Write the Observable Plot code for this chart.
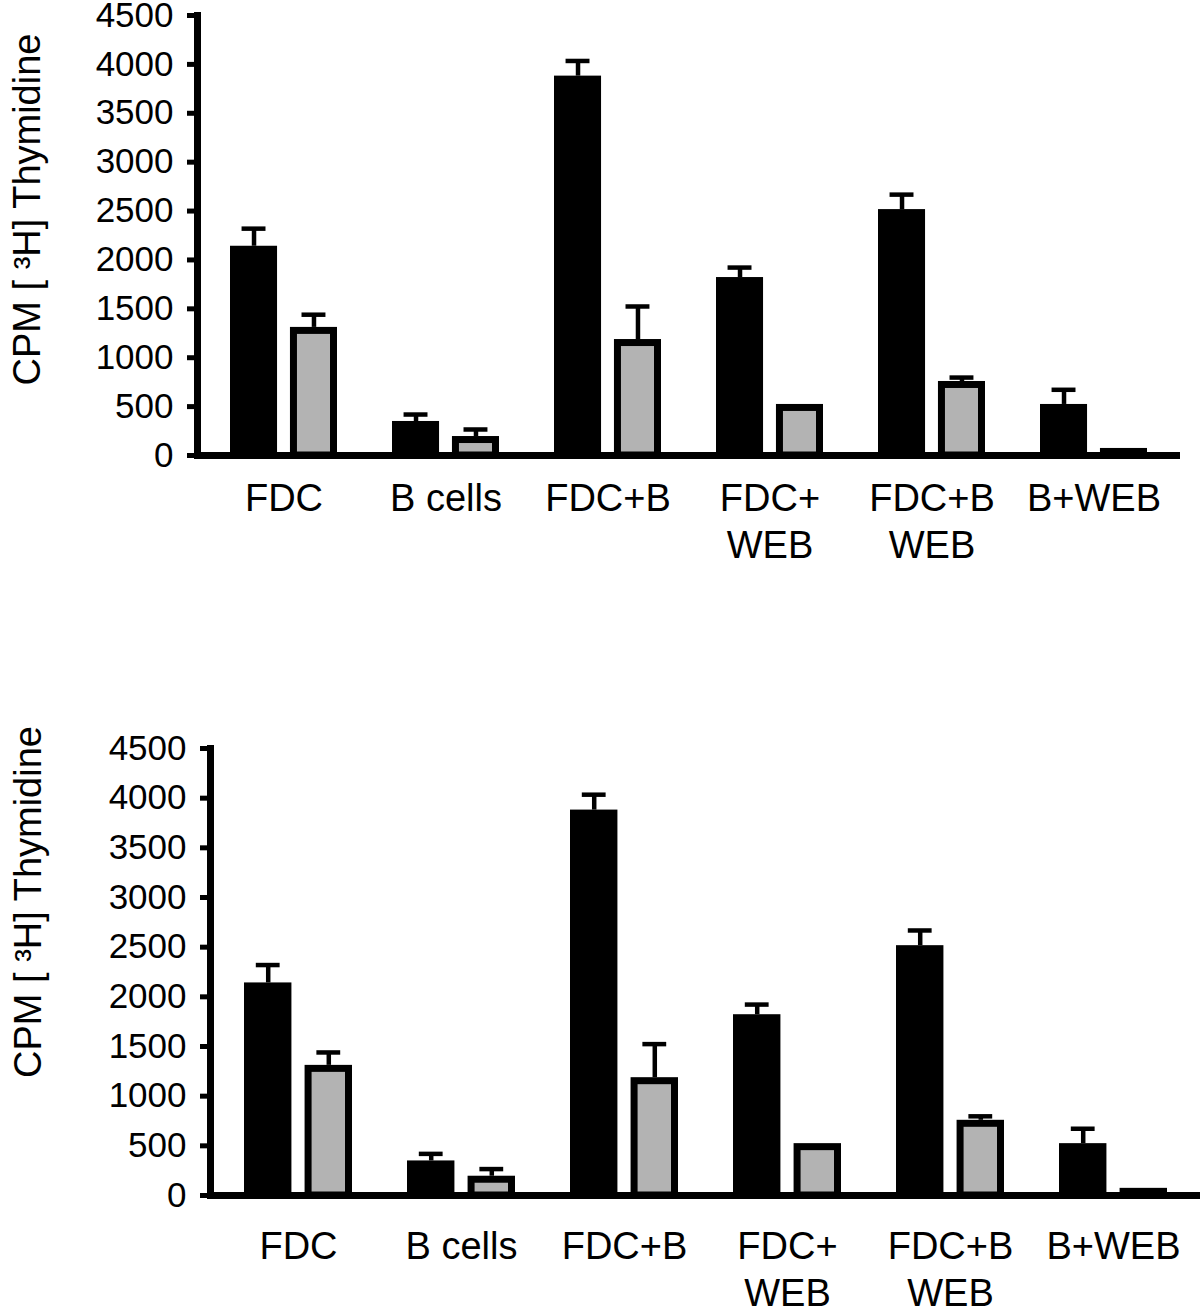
<!DOCTYPE html>
<html>
<head>
<meta charset="utf-8">
<script src="https://cdn.jsdelivr.net/npm/d3@7"></script>
<script src="https://cdn.jsdelivr.net/npm/@observablehq/plot@0.6"></script>
<style>
  body { margin: 0; background: #fff; }
  #chart { width: 1200px; }
  #chart svg { display: block; }
</style>
</head>
<body>
<div id="chart"></div>
<script>
// ---- data ----
const categories  = ["FDC", "B cells", "FDC+B", "FDC+\nWEB", "FDC+B\nWEB", "B+WEB"];
const blackValues = [2140, 348, 3880, 1820, 2515, 522];
const blackUpper  = [2320, 419, 4035, 1922, 2668, 672];
const greyValues  = [1310, 194, 1186, 522, 757, 72];
const greyUpper   = [1440, 266, 1524, 522, 797, 72];
const yTicks      = [0, 500, 1000, 1500, 2000, 2500, 3000, 3500, 4000, 4500];
const yLabel      = "CPM [ ³H] Thymidine";

const blackRows = categories.map((c, i) => ({cat: c, value: blackValues[i], upper: blackUpper[i]}));
const greyRows  = categories.map((c, i) => ({cat: c, value: greyValues[i], upper: greyUpper[i]}));

const FONT = "'Liberation Sans', Arial, Helvetica, sans-serif";
const GREY = "#b3b3b3";

function panel(p) {
  const width = 1200;
  const n = categories.length;
  const step = (width - p.marginLeft - p.marginRight) / (n - p.paddingInner + 2 * p.paddingOuter);
  const bw = step * (1 - p.paddingInner);
  const barW = bw * 0.44;
  const gap = bw * 0.12;
  const sw = 7;            // outline of grey bars
  const capHalf = 12;
  const cBlack = barW / 2;
  const cGrey = barW + gap + barW / 2;

  return Plot.plot({
    width,
    height: p.height,
    marginTop: p.marginTop,
    marginBottom: p.marginBottom,
    marginLeft: p.marginLeft,
    marginRight: p.marginRight,
    style: {fontFamily: FONT, background: "white", color: "black", overflow: "visible"},
    x: {domain: categories, paddingInner: p.paddingInner, paddingOuter: p.paddingOuter, axis: null},
    y: {domain: [0, 4500], axis: null},
    marks: [
      // bars
      Plot.barY(blackRows, {x: "cat", y: "value", fill: "black", insetLeft: 0, insetRight: bw - barW}),
      Plot.barY(greyRows, {x: "cat", y: "value", fill: GREY, stroke: "black", strokeWidth: sw,
        insetLeft: barW + gap + sw / 2, insetRight: sw / 2, insetTop: sw / 2}),
      // error bars
      Plot.ruleX(blackRows.filter(d => d.upper > d.value), {x: "cat", y1: "value", y2: "upper", strokeWidth: 4.5, dx: cBlack - bw / 2}),
      Plot.ruleX(greyRows.filter(d => d.upper > d.value), {x: "cat", y1: "value", y2: "upper", strokeWidth: 4.5, dx: cGrey - bw / 2}),
      Plot.tickY(blackRows.filter(d => d.upper > d.value), {x: "cat", y: "upper", strokeWidth: 4.5,
        insetLeft: cBlack - capHalf, insetRight: bw - cBlack - capHalf}),
      Plot.tickY(greyRows.filter(d => d.upper > d.value), {x: "cat", y: "upper", strokeWidth: 4.5,
        insetLeft: cGrey - capHalf, insetRight: bw - cGrey - capHalf}),
      // axes
      Plot.ruleY([0], {strokeWidth: 7}),
      Plot.frame({anchor: "left", strokeWidth: 7}),
      Plot.axisY({ticks: yTicks, tickSize: 10, tickPadding: 14, strokeWidth: 5, fontSize: 35,
        tickFormat: d => String(d), label: null}),
      Plot.axisX({tickSize: 0, tickPadding: p.xLabelPad, fontSize: 38, lineHeight: 1.24, label: null}),
      Plot.text([yLabel], {frameAnchor: "left", rotate: -90, fontSize: 38, textAnchor: "middle",
        dx: p.yLabelX - p.marginLeft, dy: p.yLabelDy})
    ]
  });
}

const chart = document.getElementById("chart");
chart.appendChild(panel({height: 733, marginTop: 15, marginBottom: 278, marginLeft: 197, marginRight: 20,
  paddingInner: 0.34, paddingOuter: 0.2, xLabelPad: 22, yLabelX: 27, yLabelDy: -26}));
chart.appendChild(panel({height: 575, marginTop: 15, marginBottom: 113, marginLeft: 210, marginRight: 0,
  paddingInner: 0.34, paddingOuter: 0.19, xLabelPad: 30, yLabelX: 28, yLabelDy: -70}));
</script>
</body>
</html>
